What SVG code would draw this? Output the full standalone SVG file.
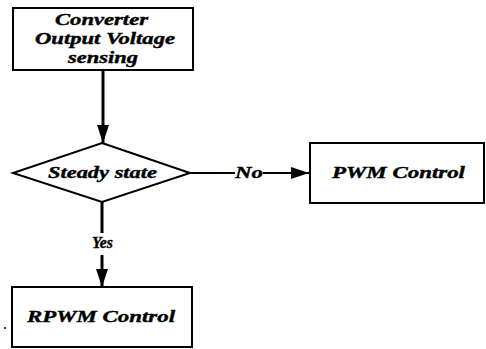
<svg xmlns="http://www.w3.org/2000/svg" width="486" height="349" viewBox="0 0 486 349">
<style>
.box{fill:#fff;stroke:#000;stroke-width:2}
.t{font-family:"Liberation Serif","Times New Roman",serif;font-weight:bold;font-style:italic;font-size:17px;fill:#000;stroke:#000;stroke-width:0.4}
.c{stroke:#000;stroke-width:3;fill:none}
.thin{stroke:#000;stroke-width:2;fill:none}
</style>
<defs>
<marker id="ah" markerUnits="userSpaceOnUse" markerWidth="20" markerHeight="14" refX="18" refY="7" orient="auto">
<path d="M0,1 L18,7 L0,13 Z" fill="#000"/>
</marker>
</defs>
<rect width="486" height="349" fill="#fff"/>
<g id="connectors">
<line class="c" x1="103" y1="70" x2="103" y2="143" marker-end="url(#ah)"/>
<line class="thin" x1="190" y1="173" x2="235" y2="173"/>
<line class="thin" x1="263" y1="173" x2="309" y2="173" marker-end="url(#ah)"/>
<line class="c" x1="102" y1="202" x2="102" y2="233"/>
<line class="c" x1="102" y1="255" x2="102" y2="287" marker-end="url(#ah)"/>
<text class="t" x="235" y="178" textLength="28" lengthAdjust="spacingAndGlyphs">No</text>
<text class="t" x="92" y="248" textLength="21" lengthAdjust="spacingAndGlyphs">Yes</text>
</g>
<g id="sensing">
<rect class="box" x="13" y="8" width="180" height="62"/>
<text class="t" x="55" y="25" textLength="93" lengthAdjust="spacingAndGlyphs">Converter</text>
<text class="t" x="35" y="44" textLength="140" lengthAdjust="spacingAndGlyphs">Output Voltage</text>
<text class="t" x="68" y="63" textLength="70" lengthAdjust="spacingAndGlyphs">sensing</text>
</g>
<g id="steady">
<polygon class="box" points="102,143 190,173 102,202 13,173"/>
<text class="t" x="48" y="178" textLength="109" lengthAdjust="spacingAndGlyphs">Steady state</text>
</g>
<g id="pwm">
<rect class="box" x="310" y="143" width="174" height="60"/>
<text class="t" x="332" y="178" textLength="133" lengthAdjust="spacingAndGlyphs">PWM Control</text>
</g>
<g id="rpwm">
<rect class="box" x="12" y="287" width="180" height="60"/>
<text class="t" x="27" y="322" textLength="148" lengthAdjust="spacingAndGlyphs">RPWM Control</text>
</g>
<circle cx="5" cy="328" r="1" fill="#000"/>
</svg>
